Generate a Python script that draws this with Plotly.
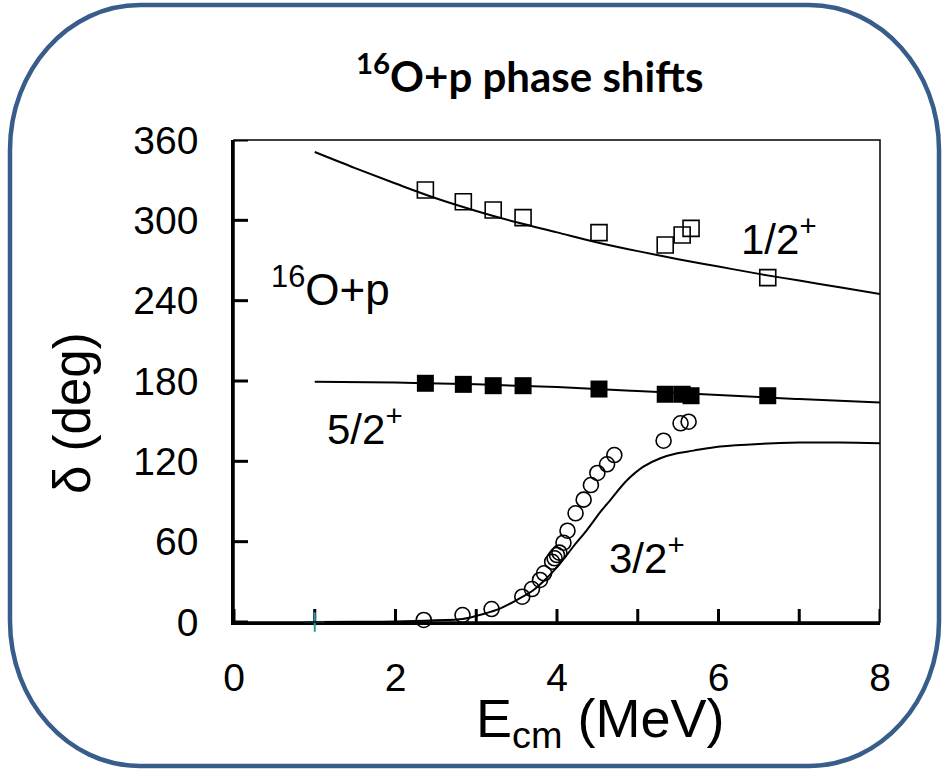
import plotly.graph_objects as go

# ---------------- data ----------------
# 1/2+ experimental (open squares)
x_half = [2.37, 2.84, 3.21, 3.58, 4.52, 5.34, 5.55, 5.66, 6.61]
y_half = [322.7, 313.9, 307.7, 302.0, 290.8, 281.6, 289.0, 294.0, 257.2]
# 5/2+ experimental (filled squares)
x_five = [2.37, 2.84, 3.21, 3.58, 4.52, 5.34, 5.55, 5.66, 6.61]
y_five = [178.3, 177.5, 176.5, 176.5, 174.0, 170.1, 170.1, 169.0, 169.0]
# 3/2+ experimental (open circles)
x_three = [2.35, 2.83, 3.19, 3.57, 3.69, 3.79, 3.84, 3.94, 3.97, 4.00, 4.03,
           4.08, 4.13, 4.23, 4.33, 4.42, 4.50, 4.62, 4.71, 5.32, 5.53, 5.63]
y_three = [1.5, 5.2, 9.7, 18.9, 24.6, 31.4, 36.4, 45.0, 47.6, 50.0, 51.8,
           59.2, 68.2, 81.2, 91.4, 102.3, 111.3, 117.8, 124.7, 135.4, 148.4, 149.6]

# calculated curves
xc_half = [1, 1.5, 2, 2.5, 3, 3.5, 4, 4.5, 5, 5.5, 6, 6.5, 7, 7.5, 8]
yc_half = [351, 339, 327.5, 316.5, 307, 298.5, 291, 283.5, 277, 271, 265.5, 260, 255, 250, 245]
xc_five = [1, 2, 3, 4, 5, 6, 7, 8]
yc_five = [179.5, 178.8, 177.5, 175.5, 172.5, 169.5, 166.5, 164]
xc_three = [1, 1.5, 2, 2.5, 2.83, 3.09, 3.3, 3.5, 3.71, 3.87, 4.04, 4.2, 4.37,
            4.54, 4.66, 4.87, 5.07, 5.28, 5.49, 5.69, 6.02, 6.5, 7, 7.5, 8]
yc_three = [0, 0.1, 0.4, 1.3, 2.2, 6.0, 10.2, 16.4, 23.9, 32.6, 43.8, 56.2, 68.7,
            82.4, 91.1, 106, 116, 122.3, 126, 128, 131, 133, 134, 134, 133.5]

# threshold marker
x_thr = [1]
y_thr = [0]

x_ticks = [0, 2, 4, 6, 8]
x_minor_ticks = [0, 1, 2, 3, 4, 5, 6, 7, 8]
y_ticks = [0, 60, 120, 180, 240, 300, 360]

X_RANGE = [0, 8]
Y_RANGE = [0, 360]

# ---------------- geometry helpers ----------------
W, H = 942, 771
L, R, T, B = 234, 880, 140, 622


def px(xp):
    return (xp - L) / (R - L)


def py(yp):
    return (B - yp) / (B - T)


AX_FONT = "Liberation Sans, Arial, sans-serif"

fig = go.Figure()

# inside tick marks built from the tick lists (length in pixels -> data units)
TICK = 13
dy_tick = TICK * (Y_RANGE[1] - Y_RANGE[0]) / (B - T)
dx_tick = (TICK + 1) * (X_RANGE[1] - X_RANGE[0]) / (R - L)
tx, ty = [], []
for t in x_minor_ticks:
    tx += [t, t, None]
    ty += [Y_RANGE[0], Y_RANGE[0] + dy_tick, None]
for t in y_ticks:
    tx += [X_RANGE[0], X_RANGE[0] + dx_tick, None]
    ty += [t, t, None]
fig.add_trace(go.Scatter(x=tx, y=ty, mode="lines", line=dict(color="black", width=3),
                         cliponaxis=False, showlegend=False, hoverinfo="skip"))

line_style = dict(color="black", width=2)
fig.add_trace(go.Scatter(x=xc_half, y=yc_half, mode="lines", line=dict(shape="spline", **line_style),
                         showlegend=False, hoverinfo="skip"))
fig.add_trace(go.Scatter(x=xc_five, y=yc_five, mode="lines", line=dict(shape="spline", **line_style),
                         showlegend=False, hoverinfo="skip"))
fig.add_trace(go.Scatter(x=xc_three, y=yc_three, mode="lines", line=dict(shape="spline", **line_style),
                         showlegend=False, hoverinfo="skip"))
fig.add_trace(go.Scatter(x=x_half, y=y_half, mode="markers", cliponaxis=False,
                         marker=dict(symbol="square-open", size=16, color="black", line=dict(width=1.6)),
                         showlegend=False))
fig.add_trace(go.Scatter(x=x_five, y=y_five, mode="markers", cliponaxis=False,
                         marker=dict(symbol="square", size=17, color="black"), showlegend=False))
fig.add_trace(go.Scatter(x=x_three, y=y_three, mode="markers", cliponaxis=False,
                         marker=dict(symbol="circle-open", size=15, color="black", line=dict(width=1.6)),
                         showlegend=False))
fig.add_trace(go.Scatter(x=x_thr, y=y_thr, mode="markers", cliponaxis=False,
                         marker=dict(symbol="cross-thin", size=14, color="#2a9a9a",
                                     line=dict(width=2, color="#2a9a9a")), showlegend=False))

# ---------------- rounded outer border ----------------
x0, x1, y0, y1 = 10, 939, 5, 766
rx, ry = 130, 145
k = 0.5523


def P(a, b):
    return f"{px(a):.5f},{py(b):.5f}"


path = (
    f"M {P(x0 + rx, y0)} L {P(x1 - rx, y0)} "
    f"C {P(x1 - rx + k * rx, y0)} {P(x1, y0 + ry - k * ry)} {P(x1, y0 + ry)} "
    f"L {P(x1, y1 - ry)} "
    f"C {P(x1, y1 - ry + k * ry)} {P(x1 - rx + k * rx, y1)} {P(x1 - rx, y1)} "
    f"L {P(x0 + rx, y1)} "
    f"C {P(x0 + rx - k * rx, y1)} {P(x0, y1 - ry + k * ry)} {P(x0, y1 - ry)} "
    f"L {P(x0, y0 + ry)} "
    f"C {P(x0, y0 + ry - k * ry)} {P(x0 + rx - k * rx, y0)} {P(x0 + rx, y0)} Z"
)
fig.add_shape(type="path", path=path, xref="paper", yref="paper",
              line=dict(color="#385D8A", width=4.5), fillcolor="rgba(0,0,0,0)", layer="below")
# thin frame (top/right)
fig.add_shape(type="rect", x0=0, x1=1, y0=0, y1=1, xref="paper", yref="paper",
              line=dict(color="black", width=1.5), fillcolor="rgba(0,0,0,0)", layer="above")

# ---------------- annotations ----------------
ann = []
ann.append(dict(text="<b><sup>16</sup>O+p phase shifts</b>", x=px(529), y=py(73),
                font=dict(family="Lato, sans-serif", size=42, color="black")))
ann.append(dict(text="δ (deg)", x=px(72), y=py(413), textangle=-90,
                font=dict(family=AX_FONT, size=51, color="black")))
ann.append(dict(text="E<sub>cm</sub> (MeV)", x=px(600), y=py(722),
                font=dict(family=AX_FONT, size=54, color="black")))
ann.append(dict(text="1/2<sup>+</sup>", x=px(779), y=py(236),
                font=dict(family=AX_FONT, size=42, color="black")))
ann.append(dict(text="<sup>16</sup>O+p", x=px(330), y=py(286),
                font=dict(family=AX_FONT, size=44, color="black")))
ann.append(dict(text="5/2<sup>+</sup>", x=px(365), y=py(426),
                font=dict(family=AX_FONT, size=42, color="black")))
ann.append(dict(text="3/2<sup>+</sup>", x=px(647), y=py(555),
                font=dict(family=AX_FONT, size=42, color="black")))
for a in ann:
    a.update(xref="paper", yref="paper", showarrow=False, xanchor="center", yanchor="middle")

fig.update_layout(
    width=W, height=H,
    margin=dict(l=L, r=W - R, t=T, b=H - B, pad=0),
    paper_bgcolor="white", plot_bgcolor="white",
    annotations=ann,
    xaxis=dict(range=X_RANGE, tickvals=x_ticks, ticks="", showline=True, linewidth=2.5,
               linecolor="black", showgrid=False, zeroline=False, layer="below traces",
               tickfont=dict(family=AX_FONT, size=39, color="black"), ticklabelstandoff=19),
    yaxis=dict(range=Y_RANGE, tickvals=y_ticks, ticks="", showline=True, linewidth=2.5,
               linecolor="black", showgrid=False, zeroline=False, layer="below traces",
               tickfont=dict(family=AX_FONT, size=39, color="black"), ticklabelstandoff=25),
)

fig.write_html("out.html")
